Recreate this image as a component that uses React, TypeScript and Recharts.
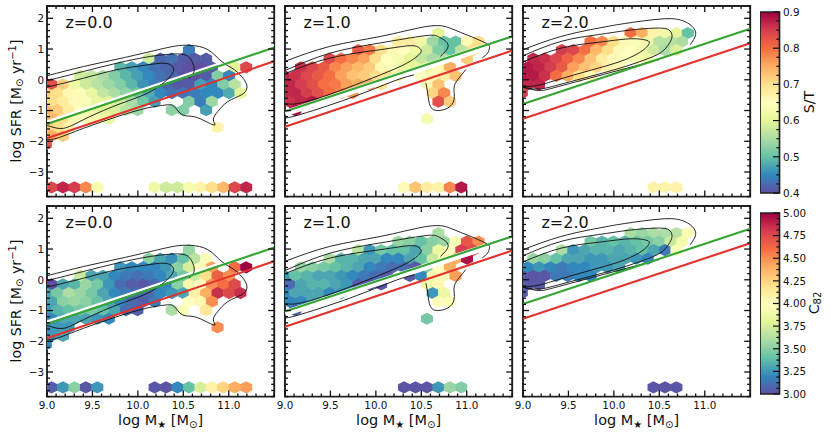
import React from "react";
import { ComposedChart, Scatter, XAxis, YAxis, ReferenceArea } from "recharts";

const FONT = "'DejaVu Sans', sans-serif";

// hexbin centres
const evenMass = [9.05, 9.176, 9.302, 9.428, 9.554, 9.68, 9.806, 9.932, 10.058, 10.184, 10.31, 10.436, 10.562, 10.688, 10.814, 10.94, 11.066, 11.192];
const oddMass = [8.987, 9.113, 9.239, 9.365, 9.491, 9.617, 9.743, 9.869, 9.995, 10.121, 10.247, 10.373, 10.499, 10.625, 10.751, 10.877, 11.003, 11.129];
const rowSfr = [-3.5, -3.221, -2.942, -2.663, -2.384, -2.105, -1.826, -1.547, -1.268, -0.989, -0.71, -0.431, -0.152, 0.127, 0.406, 0.685, 0.964, 1.243, 1.522];

type Row = [number, number, (number | null)[]];
const n = null;

const stZ0: Row[] = [
  [16, 12, [0.44]],
  [15, 9, [0.58, 0.42, 0.43, 0.41, 0.41, 0.41]],
  [14, 6, [0.49, 0.47, 0.45, 0.43, 0.42, 0.41, 0.4, 0.4, 0.41, n, 0.6, 0.84]],
  [13, 3, [0.58, 0.57, 0.55, 0.52, 0.49, 0.47, 0.45, 0.43, 0.42, 0.4, 0.4, 0.41, 0.52, 0.45]],
  [12, 0, [0.83, 0.72, 0.62, 0.58, 0.56, 0.54, 0.52, 0.49, 0.46, 0.44, 0.42, 0.41, 0.41, 0.47, 0.45, 0.52, 0.56]],
  [11, 0, [0.72, 0.7, 0.66, 0.64, 0.61, 0.57, 0.55, 0.53, 0.51, 0.48, 0.45, 0.43, 0.43, 0.44, 0.45, 0.45, 0.48, 0.6]],
  [10, 0, [0.7, 0.68, 0.66, 0.64, 0.61, 0.6, 0.58, 0.55, 0.51, 0.47, n, n, 0.52, 0.44, 0.54]],
  [9, 0, [0.74, 0.72, 0.68, 0.65, 0.62, 0.6, 0.59, 0.56, 0.54, n, n, 0.53, 0.52, n, 0.47]],
  [8, 0, [0.74, 0.7, 0.66, 0.64, 0.63, 0.61]],
  [7, 0, [0.72, 0.7, 0.67]],
  [7, 15, [0.67]],
  [6, 0, [0.75, 0.72]],
  [5, 0, [0.83]],
  [0, 0, [0.84, 0.87, 0.85, 0.78, 0.63]],
  [0, 9, [0.62, 0.58, 0.58, 0.63, 0.67, 0.7, 0.74, 0.84, 0.87]],
];

const stZ1: Row[] = [
  [18, 13, [0.6]],
  [17, 10, [0.68, 0.68, 0.62, 0.54, 0.5, 0.5, 0.66, 0.7]],
  [16, 6, [0.82, 0.79, 0.7, 0.66, 0.65, 0.62, 0.58, 0.52, 0.5, 0.56, 0.7]],
  [15, 4, [0.84, 0.8, 0.78, 0.76, 0.7, 0.65, 0.63, 0.6, 0.57, 0.55, 0.55, n, 0.72]],
  [14, 1, [0.86, 0.84, 0.82, 0.78, 0.76, 0.74, 0.72, 0.66, 0.64, 0.61, 0.6, 0.6, 0.66, 0.75]],
  [13, 0, [0.87, 0.86, 0.84, 0.82, 0.8, 0.76, 0.73, 0.72, 0.7, 0.69, 0.68, n, 0.65, 0.66, 0.68, 0.73]],
  [12, 0, [0.87, 0.85, 0.83, 0.8, 0.79, 0.76, 0.75, 0.75, 0.69, n, n, n, 0.66, 0.73]],
  [11, 0, [0.87, 0.87, 0.85, 0.83, 0.8, 0.78, 0.77]],
  [11, 13, [0.71, 0.78]],
  [10, 0, [0.86, 0.87, 0.88]],
  [10, 13, [0.83, 0.72]],
  [9, 1, [0.89]],
  [8, 12, [0.63]],
  [0, 10, [0.66, 0.73, 0.68, 0.67, 0.78, 0.88]],
];

const stZ2: Row[] = [
  [18, 9, [0.8, 0.75, 0.67, 0.62, 0.6, 0.5]],
  [17, 6, [0.8, 0.78, 0.7, 0.66, 0.64, 0.62, 0.56, 0.56, 0.55]],
  [16, 3, [0.85, 0.84, 0.8, 0.74, 0.7, 0.66, 0.65, 0.63, 0.58, 0.55, 0.59]],
  [15, 1, [0.87, 0.86, 0.84, 0.81, 0.78, 0.73, 0.68, 0.66, 0.65, 0.63, 0.62]],
  [14, 0, [0.88, 0.87, 0.85, 0.82, 0.76, 0.73, 0.71, 0.67, 0.66]],
  [13, 0, [0.88, 0.88, 0.86, 0.8, 0.75, 0.7, 0.66]],
  [12, 0, [0.87, 0.87]],
  [11, 0, [0.85]],
  [0, 11, [0.67, 0.67, 0.67]],
];

const c82Z0: Row[] = [
  [16, 12, [3.55]],
  [15, 9, [3.5, 3.3, 3.22, 3.4, 3.65, 3.95]],
  [14, 6, [3.25, 3.2, 3.2, 3.2, 3.25, 3.5, 3.75, 3.95, 4.45, n, 4.6, 5.0]],
  [13, 3, [3.7, 3.3, 3.3, 3.2, 3.15, 3.12, 3.15, 3.2, 3.3, 3.45, 3.7, 4.2, 4.65, 4.5]],
  [12, 0, [3.0, 3.3, 3.35, 3.55, 3.45, 3.25, 3.1, 3.05, 3.03, 3.08, 3.2, 3.5, 3.9, 4.0, 4.5, 4.6, 4.75]],
  [11, 0, [3.3, 3.45, 3.6, 3.55, 3.45, 3.3, 3.2, 3.15, 3.1, 3.1, 3.2, 3.25, 3.3, 4.1, 4.4, 4.85, 4.75, 4.85]],
  [10, 0, [3.3, 3.5, 3.55, 3.5, 3.4, 3.3, 3.2, 3.1, 3.05, 3.15, n, n, 4.0, 4.05, 4.5]],
  [9, 0, [3.25, 3.35, 3.4, 3.45, 3.45, 3.4, 3.3, 3.1, 3.05, n, n, 3.6, 3.95, n, 4.15]],
  [8, 0, [3.2, 3.3, 3.3, 3.3, 3.25, 3.2]],
  [7, 0, [3.2, 3.25, 3.25]],
  [7, 15, [4.5]],
  [6, 0, [3.25, 3.3]],
  [5, 0, [3.2]],
  [0, 0, [3.05, 3.25, 3.5, 3.03, 3.25]],
  [0, 9, [3.02, 3.02, 3.2, 3.4, 3.75, 4.1, 4.25, 4.4, 4.45]],
];

const c82Z1: Row[] = [
  [18, 13, [3.6]],
  [17, 10, [3.55, 3.5, 3.4, 3.5, 3.55, 3.95, 4.7, 4.5]],
  [16, 6, [3.65, 3.25, 3.45, 3.4, 3.4, 3.3, 3.5, 3.85, 4.0, 4.8, 4.75]],
  [15, 4, [3.6, 3.35, 3.35, 3.3, 3.3, 3.2, 3.2, 3.3, 3.4, 3.7, 4.05, 4.4, 4.95]],
  [14, 1, [3.55, 3.5, 3.45, 3.4, 3.35, 3.3, 3.2, 3.15, 3.1, 3.1, 3.03, 3.5, 4.0, 4.4]],
  [13, 0, [3.25, 3.4, 3.35, 3.3, 3.3, 3.25, 3.2, 3.15, 3.1, 3.05, n, 3.03, 3.2, 3.9, 3.95, 4.45]],
  [12, 0, [3.1, 3.3, 3.35, 3.35, 3.3, 3.25, 3.05, 3.02, 3.02, n, n, n, 3.9, 4.05]],
  [11, 0, [3.2, 3.3, 3.3, 3.3, 3.2, 3.25]],
  [11, 13, [3.25, 3.85]],
  [10, 0, [3.2, 3.2, 3.3]],
  [10, 13, [3.95, 3.95]],
  [9, 1, [3.05]],
  [8, 12, [3.45]],
  [0, 10, [3.02, 3.02, 3.02, 3.25, 3.55, 3.48]],
];

const c82Z2: Row[] = [
  [18, 9, [3.6, 3.55, 3.6, 3.6, 3.65, 3.95]],
  [17, 6, [3.45, 3.35, 3.4, 3.35, 3.4, 3.45, 3.5, 3.7, 3.9]],
  [16, 3, [3.6, 3.25, 3.3, 3.35, 3.35, 3.3, 3.35, 3.4, 3.3, 3.15, 3.95]],
  [15, 1, [3.55, 3.5, 3.4, 3.3, 3.3, 3.25, 3.25, 3.3, 3.3, 3.25, 3.2]],
  [14, 0, [3.2, 3.25, 3.2, 3.15, 3.2, 3.2, 3.25, 3.25, 3.3]],
  [13, 0, [3.03, 3.02, 3.03, 3.15, 3.15, 3.2, 3.2]],
  [12, 0, [3.03, 3.03]],
  [11, 0, [3.03]],
  [0, 11, [3.02, 3.02, 3.02]],
];

// contours, [logM, logSFR]
type Pt = [number, number];
const z0Outer: Pt[] = [[9, 0.13], [9.4, 0.43], [9.77, 0.67], [10.14, 0.92], [10.4, 1.09], [10.58, 1.12], [10.77, 0.98], [10.92, 0.6], [11.06, 0.33], [11.17, 0], [11.2, -0.27], [11.14, -0.49], [10.99, -0.71], [10.88, -1.03], [10.83, -1.3], [10.85, -1.47], [10.77, -1.39], [10.62, -1.2], [10.49, -1.14], [10.4, -0.87], [10.31, -0.82], [10.1, -0.92], [9.77, -1.2], [9.4, -1.58], [9.11, -1.9], [9, -1.93]];
const z0Middle: Pt[] = [[9, -0.03], [9.4, 0.27], [9.77, 0.54], [10.14, 0.76], [10.44, 0.84], [10.57, 0.71], [10.62, 0.38], [10.6, 0.16], [10.56, 0.05]];
const z0Inner: Pt[] = [[9, -0.24], [9.4, 0.05], [9.77, 0.33], [10.07, 0.47], [10.29, 0.54], [10.38, 0.43], [10.39, 0.27], [10.32, 0], [10.11, -0.43], [9.77, -0.82], [9.4, -1.3], [9.18, -1.58], [9.04, -1.52], [9, -1.5]];
const z1Outer: Pt[] = [[9, 0.6], [9.5, 1.09], [10.05, 1.41], [10.53, 1.72], [10.75, 1.74], [10.9, 1.58], [11.19, 1.22], [11.25, 1.03], [11.23, 0.87], [11.17, 0.71]];
const z1OuterLow: Pt[] = [[10.99, 0.33], [10.9, 0], [10.86, -0.27], [10.86, -0.65], [10.79, -0.92], [10.68, -1], [10.6, -0.87], [10.57, -0.43], [10.55, -0.11]];
const z1OuterLeft: Pt[] = [[9, -1.2], [9.12, -1.17], [9.71, -0.6], [10.19, -0.05], [10.42, 0.16]];
const z1Middle: Pt[] = [[9, 0.3], [9.5, 0.87], [10.05, 1.2], [10.53, 1.43], [10.68, 1.41], [10.77, 1.25], [10.79, 1.03], [10.71, 0.76]];
const z1Inner: Pt[] = [[9, 0.2], [9.5, 0.71], [10.05, 0.98], [10.38, 1.11], [10.48, 1.03], [10.49, 0.87], [10.34, 0.54], [10.05, 0.16], [9.68, -0.27], [9.31, -0.65], [9.09, -0.79], [9, -0.76]];
const z2Outer: Pt[] = [[9, 0.98], [9.42, 1.41], [9.83, 1.68], [10.12, 1.83], [10.53, 1.98], [10.75, 1.93], [10.86, 1.74], [10.9, 1.47], [10.84, 1.14]];
const z2OuterLow: Pt[] = [[9, -0.24], [9.17, -0.35], [9.39, -0.22], [9.97, 0.24], [10.49, 0.65]];
const z2Middle: Pt[] = [[9, 0.78], [9.42, 1.25], [9.83, 1.47], [10.16, 1.61], [10.45, 1.68], [10.6, 1.63], [10.64, 1.41], [10.6, 1.14], [10.51, 0.87], [10.34, 0.65], [10.01, 0.33], [9.46, -0.11], [9.18, -0.3], [9, -0.24]];
const z2Inner: Pt[] = [[9, 0.58], [9.42, 1.03], [9.83, 1.22], [10.16, 1.33], [10.34, 1.3], [10.39, 1.2], [10.32, 0.96], [10.12, 0.65], [9.83, 0.38], [9.53, 0.13], [9.28, -0.09], [9.13, -0.2], [9, -0.22]];

const z0Green: Pt[] = [[9, -1.44], [11.5, 1.05]];
const z0Red: Pt[] = [[9, -1.9], [11.5, 0.6]];
const z0Band: Pt[] = [[9, -1.36], [11.5, 1.13]];
const z1Green: Pt[] = [[9, -1.03], [11.5, 1.41]];
const z1Red: Pt[] = [[9, -1.53], [11.5, 0.95]];
const z1Band: Pt[] = [[9, -1.09], [11.5, 1.35]];
const z2Green: Pt[] = [[9, -0.79], [11.5, 1.66]];
const z2Red: Pt[] = [[9, -1.27], [11.5, 1.19]];

const xTicks = [9, 9.1, 9.2, 9.3, 9.4, 9.5, 9.6, 9.7, 9.8, 9.9, 10, 10.1, 10.2, 10.3, 10.4, 10.5, 10.6, 10.7, 10.8, 10.9, 11, 11.1, 11.2, 11.3, 11.4, 11.5];
const xMajor = [9, 9.5, 10, 10.5, 11];
const xLabels = ["9.0", "9.5", "10.0", "10.5", "11.0"];
const yTicks = [-3.8, -3.6, -3.4, -3.2, -3, -2.8, -2.6, -2.4, -2.2, -2, -1.8, -1.6, -1.4, -1.2, -1, -0.8, -0.6, -0.4, -0.2, 0, 0.2, 0.4, 0.6, 0.8, 1, 1.2, 1.4, 1.6, 1.8, 2, 2.2, 2.4];
const yMajor = [-3, -2, -1, 0, 1, 2];
const yLabels = ["−3", "−2", "−1", "0", "1", "2"];

const stTicks = [0.4, 0.425, 0.45, 0.475, 0.5, 0.525, 0.55, 0.575, 0.6, 0.625, 0.65, 0.675, 0.7, 0.725, 0.75, 0.775, 0.8, 0.825, 0.85, 0.875, 0.9];
const stMajor = [0.4, 0.5, 0.6, 0.7, 0.8, 0.9];
const stLabels = ["0.4", "0.5", "0.6", "0.7", "0.8", "0.9"];
const c82Ticks = [3, 3.0625, 3.125, 3.1875, 3.25, 3.3125, 3.375, 3.4375, 3.5, 3.5625, 3.625, 3.6875, 3.75, 3.8125, 3.875, 3.9375, 4, 4.0625, 4.125, 4.1875, 4.25, 4.3125, 4.375, 4.4375, 4.5, 4.5625, 4.625, 4.6875, 4.75, 4.8125, 4.875, 4.9375, 5];
const c82Major = [3, 3.25, 3.5, 3.75, 4, 4.25, 4.5, 4.75, 5];
const c82Labels = ["3.00", "3.25", "3.50", "3.75", "4.00", "4.25", "4.50", "4.75", "5.00"];

const spectralR = ["#5e4fa2", "#3288bd", "#66c2a5", "#abdda4", "#e6f598", "#ffffbf", "#fee08b", "#fdae61", "#f46d43", "#d53e4f", "#9e0142"];

function hexToRgb(h: string) {
  return [parseInt(h.slice(1, 3), 16), parseInt(h.slice(3, 5), 16), parseInt(h.slice(5, 7), 16)];
}
function colour(t: number) {
  const p = Math.min(Math.max(t, 0), 1) * 10;
  const i = Math.min(Math.floor(p), 9);
  const f = p - i;
  const a = hexToRgb(spectralR[i]);
  const b = hexToRgb(spectralR[i + 1]);
  return `rgb(${a.map((c, j) => Math.round(c + (b[j] - c) * f)).join(",")})`;
}

function hexes(rows: Row[], lo: number, hi: number) {
  const out: { m: number; s: number; c: string }[] = [];
  rows.forEach(([r, k0, vals]) => {
    const masses = r % 2 === 0 ? evenMass : oddMass;
    vals.forEach((v, i) => {
      if (v !== null) out.push({ m: masses[k0 + i], s: rowSfr[r], c: colour((v - lo) / (hi - lo)) });
    });
  });
  return out;
}
const pts = (p: Pt[]) => p.map(([m, s]) => ({ m, s }));

const HW = 6;
const HT = 6.1;
const HS = 3.05;
const HexShape = (props: any) => {
  const { cx, cy, payload } = props;
  const d = [
    [cx - HW, cy - HS],
    [cx, cy - HT],
    [cx + HW, cy - HS],
    [cx + HW, cy + HS],
    [cx, cy + HT],
    [cx - HW, cy + HS],
  ]
    .map((q) => q.join(","))
    .join(" ");
  return <polygon points={d} fill={payload.c} />;
};
const NoDot = () => <g />;

const PW = 227.2;
const PH = 190.6;
const ML = 46;
const MT = 6;

type PanelDef = {
  left: number;
  top: number;
  rows: Row[];
  lo: number;
  hi: number;
  contours: Pt[][];
  green: Pt[];
  red: Pt[];
  band?: Pt[];
  bandWidth?: number;
  label: string;
  showY: boolean;
  showX: boolean;
};

function Panel({ d, id }: { d: PanelDef; id: string }) {
  const chartLeft = d.left - ML;
  const chartTop = d.top - MT;
  const data = hexes(d.rows, d.lo, d.hi);
  return (
    <div style={{ position: "absolute", left: chartLeft, top: chartTop }}>
      <ComposedChart width={ML + PW + 10} height={MT + PH + 36} margin={{ left: ML - 1, top: MT, right: 10, bottom: 35 }}>
        <XAxis
          xAxisId={0}
          dataKey="m"
          type="number"
          domain={[9, 11.5]}
          allowDataOverflow
          ticks={xTicks}
          interval={0}
          height={1}
          tickSize={0}
          tickLine={false}
          axisLine={false}
          tick={(p: any) => {
            const i = xMajor.indexOf(p.payload.value);
            const len = i >= 0 ? 6 : 3;
            const y = MT + PH;
            return (
              <g>
                <line x1={p.x} x2={p.x} y1={y} y2={y - len} stroke="#111" strokeWidth={1.3} />
                <line x1={p.x} x2={p.x} y1={y - PH} y2={y - PH + len} stroke="#111" strokeWidth={1.3} />
                {d.showX && i >= 0 ? (
                  <text x={p.x} y={y + 12} fontSize={10.4} fontFamily={FONT} textAnchor="middle" fill="#111">
                    {xLabels[i]}
                  </text>
                ) : null}
              </g>
            );
          }}
        />
        <YAxis
          yAxisId={0}
          dataKey="s"
          type="number"
          domain={[-3.8, 2.4]}
          allowDataOverflow
          ticks={yTicks}
          interval={0}
          width={1}
          tickSize={0}
          tickLine={false}
          axisLine={false}
          tick={(p: any) => {
            const i = yMajor.indexOf(p.payload.value);
            const len = i >= 0 ? 6 : 3;
            const x = ML;
            return (
              <g>
                <line x1={x} x2={x + len} y1={p.y} y2={p.y} stroke="#111" strokeWidth={1.3} />
                <line x1={x + PW} x2={x + PW - len} y1={p.y} y2={p.y} stroke="#111" strokeWidth={1.3} />
                {d.showY && i >= 0 ? (
                  <text x={x - 3} y={p.y + 3.8} fontSize={10.4} fontFamily={FONT} textAnchor="end" fill="#111">
                    {yLabels[i]}
                  </text>
                ) : null}
              </g>
            );
          }}
        />
        <Scatter data={data} shape={<HexShape />} isAnimationActive={false} />
        {d.band ? (
          <Scatter
            data={pts(d.band)}
            shape={<NoDot />}
            line={{ stroke: "#ffffff", strokeWidth: d.bandWidth ?? 2.5 }}
            isAnimationActive={false}
          />
        ) : null}
        {d.contours.map((c, i) => (
          <Scatter
            key={i}
            data={pts(c)}
            shape={<NoDot />}
            lineJointType="natural"
            line={{ stroke: "#111111", strokeWidth: 0.9, fill: "none" }}
            isAnimationActive={false}
          />
        ))}
        <Scatter data={pts(d.green)} shape={<NoDot />} line={{ stroke: "#35a535", strokeWidth: 2.1 }} isAnimationActive={false} />
        <Scatter data={pts(d.red)} shape={<NoDot />} line={{ stroke: "#e3322c", strokeWidth: 2.1 }} isAnimationActive={false} />
        <ReferenceArea x1={9} x2={11.5} y1={-3.8} y2={2.4} fill="none" stroke="#222" strokeWidth={1.9} />
        <text x={ML + 18.5} y={MT + 22.5} fontSize={16} fontFamily={FONT} fill="#111">
          {d.label}
        </text>
        {d.showX ? (
          <text x={ML + PW / 2} y={MT + PH + 28.5} fontSize={14.5} fontFamily={FONT} textAnchor="middle" fill="#111">
            log M<tspan dy={2.5} fontSize={10}>★</tspan>
            <tspan dy={-2.5}> [M</tspan>
            <tspan dy={2.5} fontSize={10}>⊙</tspan>
            <tspan dy={-2.5}>]</tspan>
          </text>
        ) : null}
      </ComposedChart>
    </div>
  );
}

function Colorbar({ top, lo, hi, ticks, major, labels, id, title }: { top: number; lo: number; hi: number; ticks: number[]; major: number[]; labels: string[]; id: string; title: React.ReactNode }) {
  const left = 759.5;
  const w = 19.5;
  const h = 181;
  const mt = 6;
  const span = [
    { u: 0, w: lo },
    { u: 1, w: hi },
  ];
  return (
    <div style={{ position: "absolute", left, top: top - mt }}>
      <ComposedChart width={w + 60} height={h + 2 * mt} margin={{ left: 0, top: mt, right: 59, bottom: mt }}>
        <defs>
          <linearGradient id={id} x1="0" y1="1" x2="0" y2="0">
            {spectralR.map((c, i) => (
              <stop key={c} offset={`${i * 10}%`} stopColor={c} />
            ))}
          </linearGradient>
        </defs>
        <XAxis xAxisId={0} dataKey="u" type="number" domain={[0, 1]} hide />
        <YAxis
          yAxisId={0}
          dataKey="w"
          orientation="right"
          type="number"
          domain={[lo, hi]}
          ticks={ticks}
          interval={0}
          width={1}
          tickSize={0}
          tickLine={false}
          axisLine={false}
          tick={(p: any) => {
            const i = major.indexOf(p.payload.value);
            const len = i >= 0 ? 6.5 : 3.2;
            return (
              <g>
                <line x1={w} x2={w - len} y1={p.y} y2={p.y} stroke="#111" strokeWidth={1.2} />
                {i >= 0 ? (
                  <text x={w + 3.5} y={p.y + 3.8} fontSize={10.4} fontFamily={FONT} fill="#111">
                    {labels[i]}
                  </text>
                ) : null}
              </g>
            );
          }}
        />
        <Scatter data={span} shape={<NoDot />} isAnimationActive={false} />
        <ReferenceArea x1={0} x2={1} y1={lo} y2={hi} fill={`url(#${id})`} fillOpacity={1} stroke="#222" strokeWidth={1.7} />
        {title}
      </ComposedChart>
    </div>
  );
}

const topY = 6;
const botY = 206;
const col1 = 46.7;
const col2 = 285;
const col3 = 523;

const panels: PanelDef[] = [
  { left: col1, top: topY, rows: stZ0, lo: 0.4, hi: 0.9, contours: [z0Outer, z0Middle, z0Inner], green: z0Green, red: z0Red, band: z0Band, bandWidth: 2.2, label: "z=0.0", showY: true, showX: false },
  { left: col2, top: topY, rows: stZ1, lo: 0.4, hi: 0.9, contours: [z1Outer, z1OuterLow, z1OuterLeft, z1Middle, z1Inner], green: z1Green, red: z1Red, band: z1Band, bandWidth: 6.5, label: "z=1.0", showY: false, showX: false },
  { left: col3, top: topY, rows: stZ2, lo: 0.4, hi: 0.9, contours: [z2Outer, z2OuterLow, z2Middle, z2Inner], green: z2Green, red: z2Red, label: "z=2.0", showY: false, showX: false },
  { left: col1, top: botY, rows: c82Z0, lo: 3, hi: 5, contours: [z0Outer, z0Middle, z0Inner], green: z0Green, red: z0Red, band: z0Band, bandWidth: 2.2, label: "z=0.0", showY: true, showX: true },
  { left: col2, top: botY, rows: c82Z1, lo: 3, hi: 5, contours: [z1Outer, z1OuterLow, z1OuterLeft, z1Middle, z1Inner], green: z1Green, red: z1Red, band: z1Band, bandWidth: 6.5, label: "z=1.0", showY: false, showX: true },
  { left: col3, top: botY, rows: c82Z2, lo: 3, hi: 5, contours: [z2Outer, z2OuterLow, z2Middle, z2Inner], green: z2Green, red: z2Red, label: "z=2.0", showY: false, showX: true },
];

function YTitle({ y }: { y: number }) {
  return (
    <text transform={`translate(20.5,${y}) rotate(-90)`} fontSize={14.2} fontFamily={FONT} textAnchor="middle" fill="#111">
      log SFR [M<tspan dy={2.5} fontSize={10}>⊙</tspan>
      <tspan dy={-2.5}> yr</tspan>
      <tspan dy={-5} fontSize={10}>−1</tspan>
      <tspan dy={5}>]</tspan>
    </text>
  );
}

export default function App() {
  return (
    <div style={{ position: "absolute", left: 0, top: 0, width: 830, height: 436, background: "#fff", overflow: "hidden" }}>
      {panels.map((d, i) => (
        <Panel key={i} d={d} id={`p${i}`} />
      ))}
      <svg width={40} height={436} style={{ position: "absolute", left: 0, top: 0 }}>
        <YTitle y={101} />
        <YTitle y={301} />
      </svg>
      <Colorbar
        top={11.7}
        lo={0.4}
        hi={0.9}
        ticks={stTicks}
        major={stMajor}
        labels={stLabels}
        id="cbST"
        title={
          <text transform="translate(53.5,96) rotate(-90)" fontSize={14.2} fontFamily={FONT} textAnchor="middle" fill="#111">
            S/T
          </text>
        }
      />
      <Colorbar
        top={213.3}
        lo={3}
        hi={5}
        ticks={c82Ticks}
        major={c82Major}
        labels={c82Labels}
        id="cbC"
        title={
          <text transform="translate(58.5,96) rotate(-90)" fontSize={14.2} fontFamily={FONT} textAnchor="middle" fill="#111">
            C<tspan dy={2.5} fontSize={10}>82</tspan>
          </text>
        }
      />
    </div>
  );
}
